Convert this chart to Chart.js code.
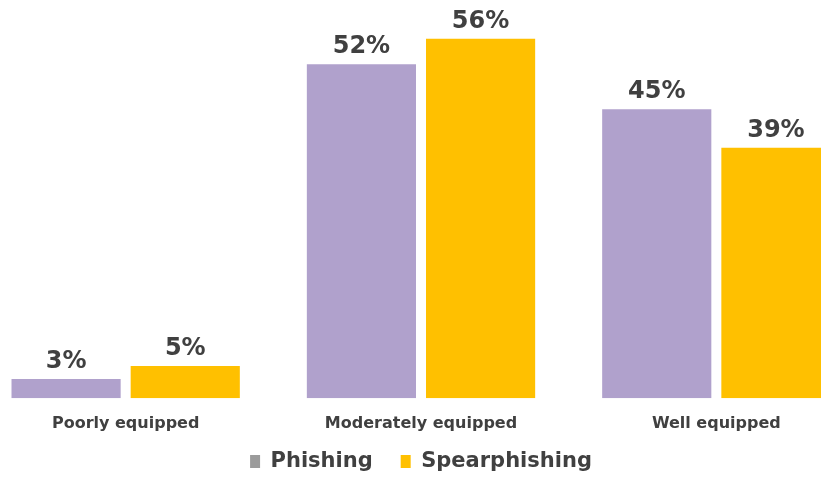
<!DOCTYPE html>
<html>
<head>
<meta charset="utf-8">
<script src="https://cdn.jsdelivr.net/npm/chart.js@4.4.0/dist/chart.umd.min.js"></script>
<style>
  html, body { margin: 0; padding: 0; background: #fff; overflow: hidden; }
  #wrap { position: absolute; left: -22px; top: 0; width: 886px; height: 477px; }
</style>
</head>
<body>
<div id="wrap"><canvas id="chart"></canvas></div>
<script>
// Chart data
const categories = ['Poorly equipped', 'Moderately equipped', 'Well equipped'];
const phishing = [3, 52, 45];
const spearphishing = [5, 56, 39];

const textColor = '#404040';
const fontFamily = 'Verdana, "DejaVu Sans", sans-serif';

// Draw the percentage above each bar
const valueLabels = {
    id: 'valueLabels',
    afterDatasetsDraw(chart) {
        const ctx = chart.ctx;
        ctx.save();
        ctx.font = 'bold 24px ' + fontFamily;
        ctx.fillStyle = textColor;
        ctx.textAlign = 'center';
        ctx.textBaseline = 'alphabetic';
        chart.data.datasets.forEach((ds, i) => {
            chart.getDatasetMeta(i).data.forEach((bar, j) => {
                ctx.fillText(ds.data[j] + '%', bar.x, bar.y - 11);
            });
        });
        ctx.restore();
    }
};

const legendBoxColors = ['#9b9b9b', '#ffc000'];

new Chart(document.getElementById('chart'), {
    type: 'bar',
    data: {
        labels: categories,
        datasets: [{
            label: 'Phishing',
            data: phishing,
            backgroundColor: '#b0a1cc'
        }, {
            label: 'Spearphishing',
            data: spearphishing,
            backgroundColor: '#ffc000'
        }]
    },
    options: {
        responsive: true,
        maintainAspectRatio: false,
        animation: false,
        categoryPercentage: 0.807,
        barPercentage: 0.916,
        layout: { padding: { top: 13, left: 0, right: 0, bottom: -5 } },
        scales: {
            x: {
                grid: { display: false },
                border: { display: false },
                ticks: {
                    color: textColor,
                    font: { family: fontFamily, size: 16, weight: 'bold' },
                    padding: 8
                },
                // blank title just to leave a bit of room above the legend
                title: {
                    display: true,
                    text: ' ',
                    font: { size: 3 },
                    padding: 0
                }
            },
            y: {
                display: false,
                min: 0,
                max: 60
            }
        },
        plugins: {
            legend: {
                position: 'bottom',
                labels: {
                    color: textColor,
                    font: { family: fontFamily, size: 21, weight: 'bold' },
                    boxWidth: 10,
                    boxHeight: 13,
                    padding: 6,
                    generateLabels(chart) {
                        return chart.data.datasets.map((ds, i) => ({
                            text: i === 0 ? ds.label + '\u00a0\u00a0\u00a0' : ds.label,
                            fillStyle: legendBoxColors[i],
                            strokeStyle: legendBoxColors[i],
                            lineWidth: 0,
                            fontColor: textColor,
                            datasetIndex: i
                        }));
                    }
                }
            },
            tooltip: { enabled: false }
        }
    },
    plugins: [valueLabels]
});
</script>
</body>
</html>
